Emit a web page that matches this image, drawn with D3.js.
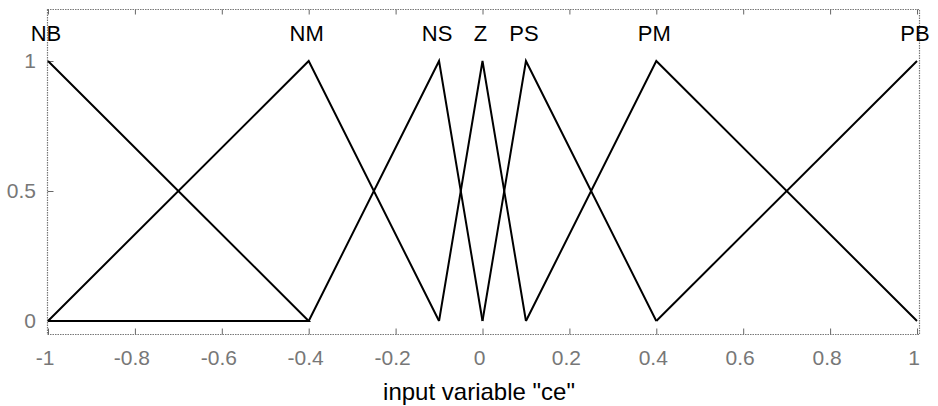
<!DOCTYPE html>
<html>
<head>
<meta charset="utf-8">
<script src="https://cdn.jsdelivr.net/npm/d3@7"></script>
<style>
  body { margin: 0; background: #fff; }
  svg { display: block; font-family: "Liberation Sans", Arial, sans-serif; }
</style>
</head>
<body>
<div id="chart"></div>
<script>
// Tick values
const xTicks = [-1, -0.8, -0.6, -0.4, -0.2, 0, 0.2, 0.4, 0.6, 0.8, 1];
const yTicks = [0, 0.5, 1];

// Membership function names and their peaks
const mfNames = ["NB", "NM", "NS", "Z", "PS", "PM", "PB"];
const mfPeaks = [-1, -0.4, -0.1, 0, 0.1, 0.4, 1];

// Polyline points of each membership function [x, mu]
const nbPoints = [[-1, 1], [-0.4, 0], [-1, 0]];
const nmPoints = [[-1, 0], [-0.4, 1], [-0.1, 0]];
const nsPoints = [[-0.4, 0], [-0.1, 1], [0, 0]];
const zPoints  = [[-0.1, 0], [0, 1], [0.1, 0]];
const psPoints = [[0, 0], [0.1, 1], [0.4, 0]];
const pmPoints = [[0.1, 0], [0.4, 1], [1, 0]];
const pbPoints = [[0.4, 0], [1, 1]];
const mfLines = [nbPoints, nmPoints, nsPoints, zPoints, psPoints, pmPoints, pbPoints];

const xLabel = 'input variable "ce"';

const W = 938, H = 406;
const svg = d3.select("#chart").append("svg")
    .attr("width", W)
    .attr("height", H);

const x = d3.scaleLinear().domain([-1, 1]).range([48, 917]);
const y = d3.scaleLinear().domain([-0.05, 1.2]).range([334, 9]);

const boxLeft = 47.5, boxRight = 919.5, boxTop = y(1.2) + 0.5, boxBottom = y(-0.05) + 0.5;

// Axes box (dotted grey like the scan)
svg.append("rect")
    .attr("x", boxLeft).attr("y", boxTop)
    .attr("width", boxRight - boxLeft).attr("height", boxBottom - boxTop)
    .attr("fill", "none")
    .attr("stroke", "#777")
    .attr("stroke-width", 1.2)
    .attr("stroke-dasharray", "1.5,1");

// Bottom axis: inward ticks and labels
const bottomAxis = svg.append("g")
    .attr("transform", "translate(0," + boxBottom + ")")
    .call(d3.axisTop(x).tickValues(xTicks).tickSize(6).tickFormat(""));
bottomAxis.select(".domain").remove();
bottomAxis.selectAll("line").attr("stroke", "#666");

svg.append("g")
    .selectAll("text")
    .data(xTicks)
    .enter()
    .append("text")
    .attr("x", d => x(d) - 3)
    .attr("y", 365)
    .attr("text-anchor", "middle")
    .attr("font-size", 21)
    .attr("fill", "#777")
    .text(d => String(d));

// Top axis ticks
const topAxis = svg.append("g")
    .attr("transform", "translate(0," + boxTop + ")")
    .call(d3.axisBottom(x).tickValues(xTicks).tickSize(5).tickFormat(""));
topAxis.select(".domain").remove();
topAxis.selectAll("line").attr("stroke", "#666");

// Left axis
const leftAxis = svg.append("g")
    .attr("transform", "translate(" + boxLeft + ",0)")
    .call(d3.axisRight(y).tickValues(yTicks).tickSize(6).tickFormat(""));
leftAxis.select(".domain").remove();
leftAxis.selectAll("line").attr("stroke", "#666");

svg.append("g")
    .selectAll("text")
    .data(yTicks)
    .enter()
    .append("text")
    .attr("x", 36)
    .attr("y", d => y(d) + 7)
    .attr("text-anchor", "end")
    .attr("font-size", 21)
    .attr("fill", "#777")
    .text(d => String(d));

// Membership function lines
const line = d3.line().x(d => x(d[0])).y(d => y(d[1]));
svg.append("g")
    .selectAll("path")
    .data(mfLines)
    .enter()
    .append("path")
    .attr("d", line)
    .attr("fill", "none")
    .attr("stroke", "#000")
    .attr("stroke-width", 2)
    .attr("stroke-linejoin", "miter");

// Membership function names
svg.append("g")
    .selectAll("text")
    .data(mfNames)
    .enter()
    .append("text")
    .attr("x", (d, i) => x(mfPeaks[i]) - 2)
    .attr("y", 41)
    .attr("text-anchor", "middle")
    .attr("font-size", 22)
    .attr("fill", "#000")
    .text(d => d);

// X axis title
svg.append("text")
    .attr("x", 479)
    .attr("y", 400)
    .attr("text-anchor", "middle")
    .attr("font-size", 24)
    .attr("fill", "#000")
    .text(xLabel);
</script>
</body>
</html>
